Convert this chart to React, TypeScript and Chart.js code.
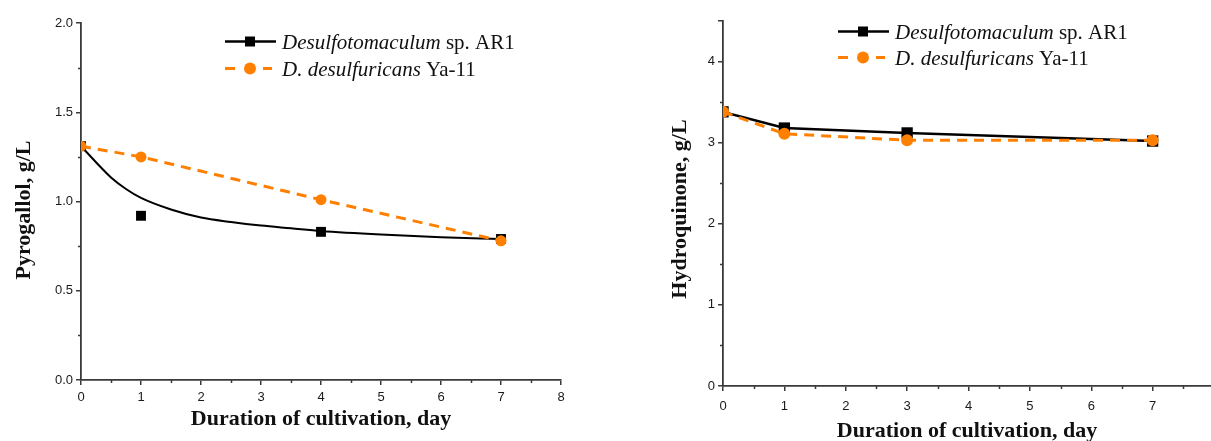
import React, { useEffect, useRef } from "react";
import { Chart, registerables } from "chart.js";

Chart.register(...registerables);

// ---------- data ----------
const pyroDays = [0, 1, 4, 7];
const pyroAR1 = [1.31, 0.92, 0.83, 0.79];
const pyroYa11 = [1.31, 1.25, 1.01, 0.78];
const pyroFitDays = [0, 0.25, 0.5, 0.75, 1, 1.5, 2, 2.5, 3, 3.5, 4, 5, 6, 7];
const pyroFitValues = [1.31, 1.22, 1.135, 1.07, 1.02, 0.955, 0.91, 0.885, 0.865, 0.85, 0.835, 0.815, 0.8, 0.79];

const hydroDays = [0, 1, 3, 7];
const hydroAR1 = [3.38, 3.18, 3.12, 3.02];
const hydroYa11 = [3.38, 3.11, 3.03, 3.03];

const xMinorTicks = [0.5, 1.5, 2.5, 3.5, 4.5, 5.5, 6.5, 7.5];
const pyroMinorTicks = [0.25, 0.75, 1.25, 1.75];
const hydroMinorTicks = [0.5, 1.5, 2.5, 3.5];

const seriesItalic = ["Desulfotomaculum", "D. desulfuricans"];
const seriesPlain = [" sp. AR1", " Ya-11"];
const xTitle = "Duration of cultivation, day";
const pyroTitle = "Pyrogallol, g/L";
const hydroTitle = "Hydroquinone, g/L";

// ---------- styles ----------
const ORANGE = "#FF8000";
const BLACK = "#000000";
const AXIS = "#3a3a3a";
const TICK_FONT = { family: '"Liberation Sans", Arial, sans-serif', size: 13 };
const SERIF = '"Liberation Serif", "Times New Roman", serif';

type DecorCfg = {
  xMinor: number[];
  yMinor: number[];
  yTitle: string;
  xTitleX: number;
  xTitleY: number;
  yTitleX: number;
  yTitleY: number;
  legendX: number;
  legendY: number;
  legendGap: number;
};

function makeDecor(cfg: DecorCfg) {
  return {
    id: "decor",
    afterDraw(chart: any) {
      const ctx: CanvasRenderingContext2D = chart.ctx;
      const xs = chart.scales.x;
      const ys = chart.scales.y;
      ctx.save();
      // minor ticks
      ctx.strokeStyle = AXIS;
      ctx.lineWidth = 1.5;
      ctx.beginPath();
      for (const v of cfg.xMinor) {
        const px = Math.round(xs.getPixelForValue(v)) + 0.5;
        ctx.moveTo(px, ys.bottom);
        ctx.lineTo(px, ys.bottom + 3);
      }
      for (const v of cfg.yMinor) {
        const py = Math.round(ys.getPixelForValue(v)) + 0.5;
        ctx.moveTo(xs.left, py);
        ctx.lineTo(xs.left - 3, py);
      }
      ctx.stroke();

      // axis titles
      ctx.fillStyle = "#111";
      ctx.font = `bold 22px ${SERIF}`;
      ctx.textAlign = "center";
      ctx.textBaseline = "alphabetic";
      ctx.fillText(xTitle, cfg.xTitleX, cfg.xTitleY);
      ctx.save();
      ctx.translate(cfg.yTitleX, cfg.yTitleY);
      ctx.rotate(-Math.PI / 2);
      ctx.textBaseline = "middle";
      ctx.fillText(cfg.yTitle, 0, 0);
      ctx.restore();

      // legend
      const lx = cfg.legendX;
      for (let i = 0; i < 2; i++) {
        const y = cfg.legendY + i * cfg.legendGap;
        if (i === 0) {
          ctx.strokeStyle = BLACK;
          ctx.lineWidth = 2.5;
          ctx.setLineDash([]);
          ctx.beginPath();
          ctx.moveTo(lx, y);
          ctx.lineTo(lx + 51, y);
          ctx.stroke();
          ctx.fillStyle = BLACK;
          ctx.fillRect(lx + 25 - 5, y - 5, 10, 10);
        } else {
          ctx.strokeStyle = ORANGE;
          ctx.lineWidth = 3;
          ctx.beginPath();
          ctx.moveTo(lx, y);
          ctx.lineTo(lx + 10, y);
          ctx.moveTo(lx + 38, y);
          ctx.lineTo(lx + 47, y);
          ctx.stroke();
          ctx.fillStyle = ORANGE;
          ctx.beginPath();
          ctx.arc(lx + 25, y, 6, 0, Math.PI * 2);
          ctx.fill();
        }
        ctx.fillStyle = "#111";
        ctx.textAlign = "left";
        ctx.textBaseline = "alphabetic";
        ctx.font = `italic 21px ${SERIF}`;
        const tx = lx + 57;
        ctx.fillText(seriesItalic[i], tx, y + 7);
        const w = ctx.measureText(seriesItalic[i]).width;
        ctx.font = `21px ${SERIF}`;
        ctx.fillText(seriesPlain[i], tx + w, y + 7);
      }
      ctx.restore();
    },
  };
}

function axisOpts(extra: any) {
  return {
    type: "linear",
    ...extra,
    ticks: {
      font: TICK_FONT,
      color: "#1a1a1a",
      padding: 3,
      ...(extra.ticks || {}),
    },
    grid: {
      drawOnChartArea: false,
      drawTicks: true,
      tickLength: 5,
      tickColor: AXIS,
      tickWidth: 1.5,
      lineWidth: 1.5,
      color: AXIS,
    },
    border: { display: true, color: AXIS, width: 1.8 },
  };
}

function pts(xs: number[], ys: number[]) {
  return xs.map((x, i) => ({ x, y: ys[i] }));
}

function PyroChart() {
  const ref = useRef<HTMLCanvasElement>(null);
  useEffect(() => {
    const chart = new Chart(ref.current as HTMLCanvasElement, {
      type: "scatter",
      data: {
        datasets: [
          {
            label: "D. desulfuricans Ya-11",
            data: pts(pyroDays, pyroYa11),
            showLine: true,
            borderColor: ORANGE,
            borderWidth: 3,
            borderDash: [10, 7],
            pointStyle: "circle",
            pointRadius: 5.5,
            pointBackgroundColor: ORANGE,
            pointBorderColor: ORANGE,
            pointBorderWidth: 0,
          },
          {
            label: "Desulfotomaculum sp. AR1",
            data: pts(pyroDays, pyroAR1),
            showLine: false,
            pointStyle: "rect",
            pointRadius: 7,
            pointBackgroundColor: BLACK,
            pointBorderColor: BLACK,
            pointBorderWidth: 0,
          },
          {
            label: "fit",
            data: pts(pyroFitDays, pyroFitValues),
            showLine: true,
            borderColor: BLACK,
            borderWidth: 2,
            pointRadius: 0,
            cubicInterpolationMode: "monotone",
          },
        ],
      } as any,
      options: {
        responsive: false,
        animation: false,
        events: [],
        layout: { padding: { left: 0, top: 23, right: 44, bottom: 0 } },
        plugins: { legend: { display: false }, tooltip: { enabled: false } },
        scales: {
          x: axisOpts({
            min: 0,
            max: 8,
            afterFit: (s: any) => {
              s.height = 61;
            },
            ticks: { stepSize: 1, padding: 5 },
          }),
          y: axisOpts({
            min: 0,
            max: 2,
            afterFit: (s: any) => {
              s.width = 81;
            },
            ticks: { stepSize: 0.5, callback: (v: any) => Number(v).toFixed(1) },
          }),
        },
      } as any,
      plugins: [
        makeDecor({
          xMinor: xMinorTicks,
          yMinor: pyroMinorTicks,
          yTitle: pyroTitle,
          xTitleX: 321,
          xTitleY: 425,
          yTitleX: 24,
          yTitleY: 210,
          legendX: 225,
          legendY: 41.5,
          legendGap: 27,
        }),
      ],
    });
    return () => chart.destroy();
  }, []);
  return (
    <canvas
      ref={ref}
      width={605}
      height={441}
      style={{ position: "absolute", left: 0, top: 0, width: 605, height: 441, display: "block" }}
    />
  );
}

function HydroChart() {
  const ref = useRef<HTMLCanvasElement>(null);
  useEffect(() => {
    const chart = new Chart(ref.current as HTMLCanvasElement, {
      type: "scatter",
      data: {
        datasets: [
          {
            label: "D. desulfuricans Ya-11",
            data: pts(hydroDays, hydroYa11),
            showLine: true,
            borderColor: ORANGE,
            borderWidth: 3,
            borderDash: [10, 7],
            pointStyle: "circle",
            pointRadius: 6,
            pointBackgroundColor: ORANGE,
            pointBorderColor: ORANGE,
            pointBorderWidth: 0,
          },
          {
            label: "Desulfotomaculum sp. AR1",
            data: pts(hydroDays, hydroAR1),
            showLine: true,
            borderColor: BLACK,
            borderWidth: 2.5,
            pointStyle: "rect",
            pointRadius: 8,
            pointBackgroundColor: BLACK,
            pointBorderColor: BLACK,
            pointBorderWidth: 0,
          },
        ],
      } as any,
      options: {
        responsive: false,
        animation: false,
        events: [],
        layout: { padding: { left: 0, top: 21, right: 16, bottom: 0 } },
        plugins: { legend: { display: false }, tooltip: { enabled: false } },
        scales: {
          x: axisOpts({
            min: 0,
            max: 8,
            afterFit: (s: any) => {
              s.height = 55;
            },
            ticks: { stepSize: 1, padding: 8 },
          }),
          y: axisOpts({
            min: 0,
            max: 4.5,
            afterFit: (s: any) => {
              s.width = 118;
            },
            ticks: { stepSize: 1, callback: (v: any) => (Number(v) % 1 === 0 ? String(v) : "") },
          }),
        },
      } as any,
      plugins: [
        makeDecor({
          xMinor: xMinorTicks,
          yMinor: hydroMinorTicks,
          yTitle: hydroTitle,
          xTitleX: 362,
          xTitleY: 437,
          yTitleX: 75,
          yTitleY: 209,
          legendX: 233,
          legendY: 31.5,
          legendGap: 26,
        }),
      ],
    });
    return () => chart.destroy();
  }, []);
  return (
    <canvas
      ref={ref}
      width={625}
      height={441}
      style={{ position: "absolute", left: 605, top: 0, width: 625, height: 441, display: "block" }}
    />
  );
}

export default function App() {
  return (
    <div
      style={{
        position: "fixed",
        left: 0,
        top: 0,
        width: 1211,
        height: 441,
        overflow: "hidden",
        background: "#ffffff",
      }}
    >
      <PyroChart />
      <HydroChart />
    </div>
  );
}
